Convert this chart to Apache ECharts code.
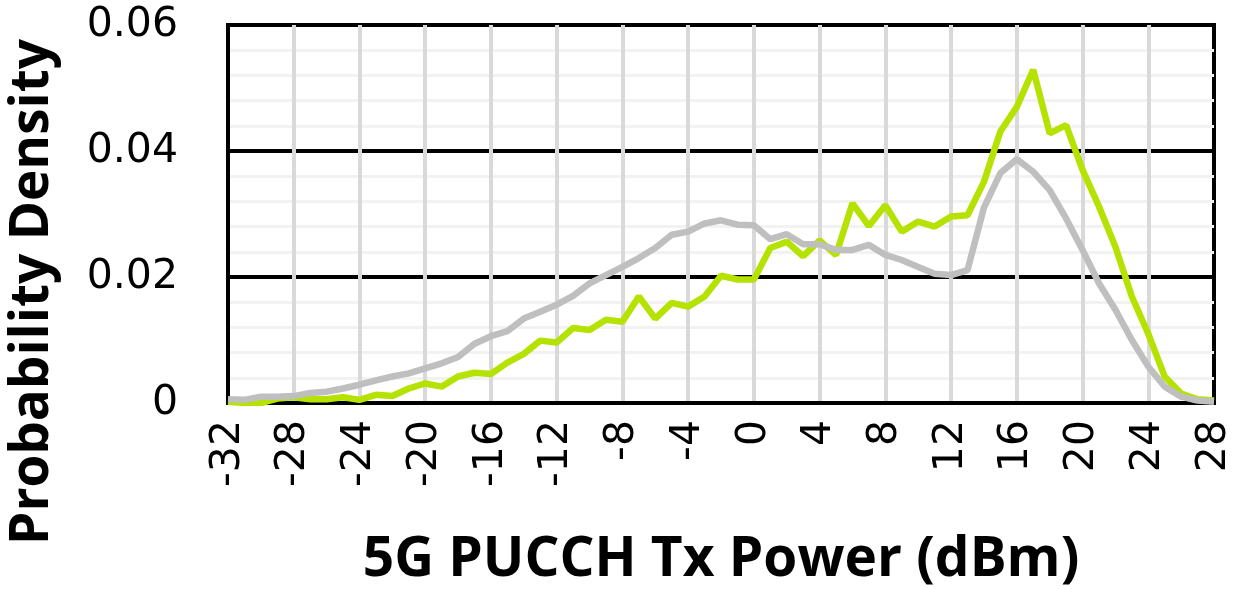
<!DOCTYPE html>
<html>
<head>
<meta charset="utf-8">
<script src="https://cdn.jsdelivr.net/npm/echarts@6/dist/echarts.min.js"></script>
<style>
  html, body { margin: 0; padding: 0; background: #fff; }
  #chart { width: 1235px; height: 589px; }
</style>
</head>
<body>
<div id="chart"></div>
<script>
// x positions in dBm, one sample per dB
const txPower = [];
for (let p = -32; p <= 28; p++) txPower.push(p);

const greenDensity = [
    0.0002, 0.0000, 0.0000, 0.0007, 0.0009, 0.0006, 0.0006, 0.0009, 0.0005, 0.0013,
    0.0011, 0.0023, 0.0031, 0.0026, 0.0042, 0.0048, 0.0046, 0.0064, 0.0078, 0.0099,
    0.0096, 0.0119, 0.0116, 0.0132, 0.0129, 0.0169, 0.0134, 0.0159, 0.0153, 0.0169,
    0.0202, 0.0196, 0.0196, 0.0246, 0.0256, 0.0233, 0.0258, 0.0235, 0.0317, 0.0281,
    0.0314, 0.0272, 0.0288, 0.0280, 0.0296, 0.0298, 0.0351, 0.0431, 0.0470, 0.0529,
    0.0428, 0.0441, 0.0370, 0.0312, 0.0248, 0.0169, 0.0110, 0.0042, 0.0015, 0.0006,
    0.0004
];

const grayDensity = [
    0.0006, 0.0005, 0.0010, 0.0010, 0.0011, 0.0016, 0.0018, 0.0023, 0.0029, 0.0036,
    0.0042, 0.0047, 0.0055, 0.0063, 0.0073, 0.0094, 0.0106, 0.0114, 0.0134, 0.0145,
    0.0156, 0.0170, 0.0190, 0.0203, 0.0216, 0.0230, 0.0246, 0.0267, 0.0272, 0.0285,
    0.0290, 0.0283, 0.0282, 0.0260, 0.0268, 0.0252, 0.0252, 0.0243, 0.0243, 0.0251,
    0.0235, 0.0227, 0.0216, 0.0205, 0.0203, 0.0211, 0.0310, 0.0365, 0.0387, 0.0367,
    0.0338, 0.0293, 0.0243, 0.0190, 0.0148, 0.0100, 0.0058, 0.0026, 0.0010, 0.0004,
    0.0002
];

const TITLE_FONT = '"Open Sans", "Noto Sans", sans-serif';
const TICK_FONT = '"DejaVu Sans", sans-serif';

const chart = echarts.init(document.getElementById('chart'), null, { renderer: 'canvas' });

chart.setOption({
    backgroundColor: '#fff',
    animation: false,
    grid: {
        left: 228, right: 21, top: 25, bottom: 186,
        outerBoundsMode: 'none',
        containLabel: false,
        show: true,
        borderColor: '#000',
        borderWidth: 4
    },
    // y title sits lower than the plot centre, like in the original
    graphic: [{
        type: 'text',
        x: 33, y: 292,
        rotation: Math.PI / 2,
        style: {
            text: 'Probability Density',
            fill: '#000',
            font: 'bold 53px ' + TITLE_FONT,
            align: 'center',
            verticalAlign: 'middle'
        }
    }],
    xAxis: {
        type: 'value',
        min: -32, max: 28, interval: 4,
        name: '5G PUCCH Tx Power (dBm)',
        nameLocation: 'middle',
        nameGap: 130,
        nameTextStyle: { color: '#000', fontSize: 55, fontWeight: 'bold', fontFamily: TITLE_FONT },
        axisLine: { show: true, lineStyle: { color: '#000', width: 4 } },
        axisTick: { show: false },
        axisLabel: {
            rotate: 90, margin: 17,
            color: '#000', fontSize: 41, fontFamily: TICK_FONT
        },
        splitLine: {
            show: true, showMinLine: false, showMaxLine: false,
            lineStyle: { color: '#d9d9d9', width: 4 }
        }
    },
    yAxis: {
        type: 'value',
        min: 0, max: 0.06, interval: 0.02,
        axisLine: { show: true, onZero: false, lineStyle: { color: '#000', width: 4 } },
        axisTick: { show: false },
        axisLabel: {
            margin: 50, color: '#000', fontSize: 41, fontFamily: TICK_FONT,
            formatter: v => v === 0 ? '0' : v.toFixed(2)
        },
        splitLine: { show: true, lineStyle: { color: '#000', width: 4 } },
        minorTick: { show: false, splitNumber: 5 },
        minorSplitLine: { show: true, lineStyle: { color: '#f2f2f2', width: 3 } }
    },
    series: [
        {
            type: 'line',
            data: txPower.map((p, i) => [p, greenDensity[i]]),
            showSymbol: false,
            lineStyle: { color: '#b5e200', width: 6.5 },
            z: 2
        },
        {
            type: 'line',
            data: txPower.map((p, i) => [p, grayDensity[i]]),
            showSymbol: false,
            lineStyle: { color: '#bfbfbf', width: 6.5 },
            z: 3
        }
    ]
});
</script>
</body>
</html>
